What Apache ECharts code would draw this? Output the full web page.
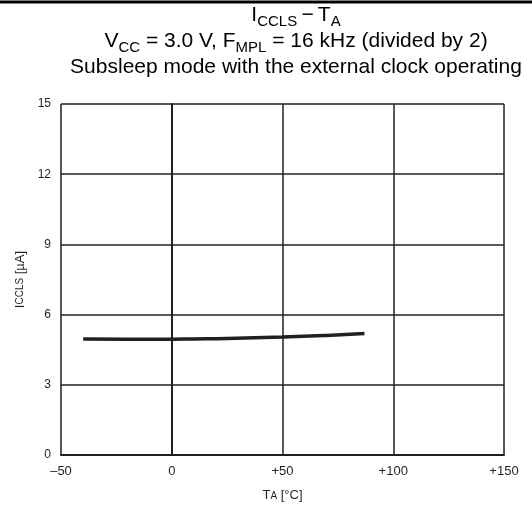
<!DOCTYPE html>
<html><head><meta charset="utf-8">
<script src="https://cdn.jsdelivr.net/npm/echarts@6/dist/echarts.min.js"></script>
<style>html,body{margin:0;padding:0;background:#fff}#c{width:532px;height:512px}</style>
</head><body><div id="c"></div>
<script>
const temps = [-40, -20, 0, 10, 25, 50, 70, 87];
const iccls = [4.96, 4.95, 4.95, 4.96, 4.98, 5.04, 5.11, 5.19];
const xTicks = [-50, 0, 50, 100, 150];
const yTicks = [0, 3, 6, 9, 12, 15];

const ink = '#231f20';
const chart = echarts.init(document.getElementById('c'), null, {renderer: 'canvas'});
const fontFamily = 'Liberation Sans, Arial, sans-serif';
const titleRich = {
  n: {fontSize: 21, fontWeight: 'normal', fontFamily, color: '#000', lineHeight: 22, verticalAlign: 'top'},
  s: {fontSize: 15, fontWeight: 'normal', fontFamily, color: '#000', lineHeight: 22, padding: [9, 0, 0, 0], verticalAlign: 'top'}
};
chart.setOption({
  backgroundColor: '#fff',
  animation: false,
  graphic: [
    {type: 'line', shape: {x1: 0, y1: 2, x2: 532, y2: 2}, style: {stroke: '#000', lineWidth: 3}}
  ],
  title: [
    {text: '{n|I}{s|CCLS}{n|\u2009−\u2009T}{s|A}', left: 291, top: 0, textAlign: 'center',
     textStyle: {fontWeight: 'normal', rich: titleRich}},
    {text: '{n|V}{s|CC}{n| = 3.0 V, F}{s|MPL}{n| = 16 kHz (divided by 2)}', left: 291, top: 26, textAlign: 'center',
     textStyle: {fontWeight: 'normal', rich: titleRich}},
    {text: 'Subsleep mode with the external clock operating', left: 291, top: 52, textAlign: 'center',
     textStyle: {fontSize: 21, fontWeight: 'normal', fontFamily, color: '#000'}}
  ],
  grid: {left: 61, right: 28, top: 104, bottom: 57, show: false},
  xAxis: {
    type: 'value', min: xTicks[0], max: xTicks[xTicks.length - 1], interval: 50,
    name: '{n|T}{s|A}{n| [°C]}', nameLocation: 'middle', nameGap: 34,
    nameTextStyle: {rich: {n: {fontSize: 13, fontFamily, color: ink}, s: {fontSize: 10, fontFamily, color: ink, padding: [2, 0, 0, 0]}}},
    axisLine: {show: true, lineStyle: {color: ink, width: 2}},
    axisTick: {show: false},
    axisLabel: {fontSize: 13, fontFamily, color: ink, margin: 10,
      formatter: v => v > 0 ? '+' + v : (v < 0 ? '–' + Math.abs(v) : '' + v)},
    splitLine: {show: true, lineStyle: {color: ink, width: 1.5}}
  },
  yAxis: {
    type: 'value', min: yTicks[0], max: yTicks[yTicks.length - 1], interval: 3,
    name: '{n|I}{s|CCLS}{n| [µA]}', nameLocation: 'middle', nameGap: 34,
    nameTextStyle: {rich: {n: {fontSize: 13, fontFamily, color: ink}, s: {fontSize: 10, fontFamily, color: ink}}},
    axisLine: {show: true, lineStyle: {color: ink, width: 2}},
    axisTick: {show: false},
    axisLabel: {fontSize: 12, fontFamily, color: ink, margin: 10},
    splitLine: {show: true, lineStyle: {color: ink, width: 1.5}}
  },
  series: [{
    type: 'line', data: temps.map((t, i) => [t, iccls[i]]), smooth: true,
    symbol: 'none', lineStyle: {color: ink, width: 3.5}
  }]
});
</script></body></html>
